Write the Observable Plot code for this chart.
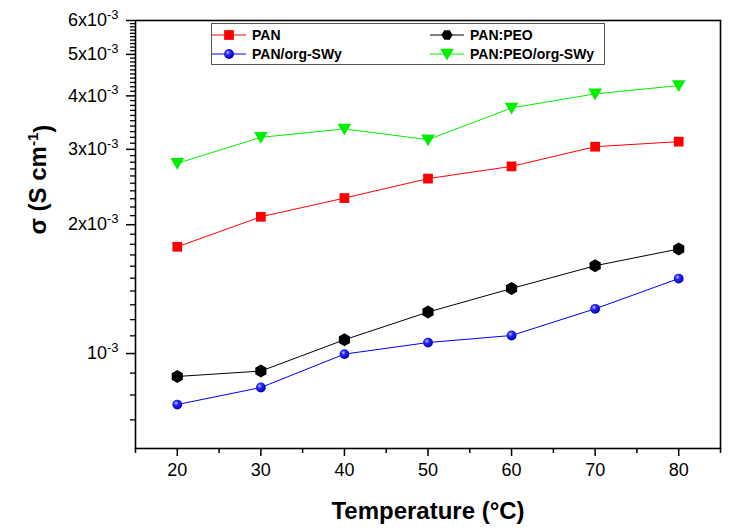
<!DOCTYPE html>
<html><head><meta charset="utf-8">
<script src="https://cdn.jsdelivr.net/npm/d3@7"></script>
<script src="https://cdn.jsdelivr.net/npm/@observablehq/plot@0.6"></script>
<style>
body{margin:0;background:#fff;font-family:"Liberation Sans",Arial,sans-serif;}
#wrap{position:relative;width:729px;height:531px;}
#legend{position:absolute;left:211px;top:23px;width:392px;height:40px;border:1px solid #555;background:#fff;}
.lg{position:absolute;display:flex;align-items:center;height:20px;font-weight:bold;font-size:14px;color:#000;}
.lg svg{display:block;margin-right:6px;}
</style></head><body><div id="wrap"></div>
<script>
// ---- data ----
const temperatures = [20, 30, 40, 50, 60, 70, 80];
const seriesNames = ["PAN", "PAN:PEO", "PAN/org-SWy", "PAN:PEO/org-SWy"];
const panValues = [1.776e-3, 2.087e-3, 2.308e-3, 2.563e-3, 2.737e-3, 3.043e-3, 3.127e-3];
const panPeoValues = [0.884e-3, 0.910e-3, 1.077e-3, 1.250e-3, 1.419e-3, 1.604e-3, 1.755e-3];
const panOrgValues = [0.760e-3, 0.833e-3, 0.997e-3, 1.061e-3, 1.102e-3, 1.272e-3, 1.497e-3];
const panPeoOrgValues = [2.782e-3, 3.200e-3, 3.348e-3, 3.160e-3, 3.749e-3, 4.043e-3, 4.227e-3];
const seriesColors = ["#ff0000", "#000000", "#0000ff", "#00ee00"];
const xTicks = [20, 30, 40, 50, 60, 70, 80];
const xMinorTicks = [15, 25, 35, 45, 55, 65, 75, 85];
const yTicks = [1e-3, 2e-3, 3e-3, 4e-3, 5e-3, 6e-3];
const yTickLabels = ["10", "2x10", "3x10", "4x10", "5x10", "6x10"];
const yTickExponent = "-3";
const xTitle = "Temperature (°C)";
const yTitleBase = "σ (S cm";
const yTitleExp = "-1";

// ---- build ----
const valueArrays = [panValues, panPeoValues, panOrgValues, panPeoOrgValues];
const rows = [];
seriesNames.forEach((s, k) => temperatures.forEach((t, i) => rows.push({series: s, t, v: valueArrays[k][i]})));
const yMinor = [];
for (let m = 7; m < 60; m++) { if (m % 10 !== 0) yMinor.push(m * 1e-4); }

const triangleDown = {
  draw(ctx, size) {
    const r = Math.sqrt(size / Math.PI);
    ctx.moveTo(-1.1 * r, -0.85 * r);
    ctx.lineTo(1.1 * r, -0.85 * r);
    ctx.lineTo(0, 1.05 * r);
    ctx.closePath();
  }
};
const symbols = ["square", "hexagon", "circle", triangleDown];
const radii = [5.5, 5.6, 4.9, 6.2];
const fills = ["#ff0000", "#000000", "url(#sphere)", "#00ee00"];

const of = s => rows.filter(d => d.series === s);

const marks = [
  Plot.frame({stroke: "#000", strokeWidth: 1.6}),
  Plot.axisX({ticks: xMinorTicks, tickSize: 5, tickFormat: () => "", strokeWidth: 1.5, label: null}),
  Plot.axisX({ticks: xTicks, tickSize: 8, tickPadding: 7, tickFormat: d => String(d), strokeWidth: 1.5, fontSize: 18, label: null}),
  Plot.axisY({ticks: yMinor, tickSize: 5, tickFormat: () => "", strokeWidth: 1.3, label: null}),
  Plot.axisY({ticks: yTicks, tickSize: 9, tickPadding: 8, tickFormat: d => yTickLabels[yTicks.indexOf(d)], strokeWidth: 1.5, fontSize: 18, label: null}),
];
seriesNames.forEach((s, k) => {
  marks.push(Plot.line(of(s), {x: "t", y: "v", stroke: seriesColors[k], strokeWidth: 1}));
});
seriesNames.forEach((s, k) => {
  marks.push(Plot.dot(of(s), {x: "t", y: "v", symbol: () => symbols[k], r: radii[k], fill: fills[k], stroke: "none"}));
});
marks.push(Plot.text([xTitle], {frameAnchor: "bottom", dy: 63, lineAnchor: "middle", fontSize: 24, fontWeight: "bold", text: d => d}));
marks.push(Plot.text([yTitleBase], {frameAnchor: "left", dx: -97, rotate: -90, lineAnchor: "middle", fontSize: 24, fontWeight: "bold", text: d => d}));

const svg = Plot.plot({
  width: 729, height: 531,
  marginLeft: 135, marginRight: 9, marginTop: 20, marginBottom: 83,
  x: {domain: [15, 85]},
  y: {type: "log", domain: [6e-4, 6e-3]},
  symbol: {type: "identity"},
  style: {fontFamily: "'Liberation Sans', Arial, sans-serif", color: "#000", background: "#fff", overflow: "visible"},
  marks
});

const s = d3.select(svg);
const defs = s.insert("defs", ":first-child");
const g = defs.append("radialGradient").attr("id", "sphere").attr("cx", "38%").attr("cy", "35%").attr("r", "65%");
g.append("stop").attr("offset", "0%").attr("stop-color", "#c8c8ff");
g.append("stop").attr("offset", "35%").attr("stop-color", "#2a2aff");
g.append("stop").attr("offset", "100%").attr("stop-color", "#0000b0");

s.selectAll("text").each(function() {
  const txt = this.textContent;
  const t = d3.select(this);
  if (yTickLabels.includes(txt) && this.childElementCount === 0) {
    t.append("tspan").attr("dy", "-0.55em").attr("font-size", "13px").text(yTickExponent);
  } else if (txt === yTitleBase) {
    t.append("tspan").attr("dy", "-0.55em").attr("font-size", "15px").text(yTitleExp);
    t.append("tspan").attr("dy", "0.55em").text(")");
  }
});

const wrap = document.getElementById("wrap");
wrap.appendChild(svg);

// legend
const legend = document.createElement("div");
legend.id = "legend";
const legPos = [[0, 1], [218, 1], [0, 20], [218, 20]];
[0, 1, 2, 3].forEach(k => {
  const item = document.createElement("div");
  item.className = "lg";
  item.style.left = legPos[k][0] + "px";
  item.style.top = legPos[k][1] + "px";
  const sw = d3.create("svg").attr("width", 34).attr("height", 20);
  sw.append("line").attr("x1", 0).attr("x2", 34).attr("y1", 10).attr("y2", 10).attr("stroke", seriesColors[k]).attr("stroke-width", 1);
  if (k === 1) {
    const r = 5.6;
    const p = d3.range(6).map(i => [r * Math.cos(Math.PI / 6 + i * Math.PI / 3), r * Math.sin(Math.PI / 6 + i * Math.PI / 3)]);
    sw.append("path").attr("d", "M" + p.join("L") + "Z").attr("transform", "translate(17,10) rotate(30)").attr("fill", "#000");
  } else if (k === 3) {
    const path = d3.path();
    triangleDown.draw(path, Math.PI * 6.2 * 6.2);
    sw.append("path").attr("d", path.toString()).attr("transform", "translate(17,10)").attr("fill", fills[k]);
  } else {
    const st = k === 0 ? d3.symbolSquare : d3.symbolCircle;
    const sym2 = d3.symbol(st, Math.PI * radii[k] * radii[k]);
    sw.append("path").attr("d", sym2()).attr("transform", "translate(17,10)").attr("fill", k === 2 ? "url(#sphere)" : fills[k]);
  }
  item.appendChild(sw.node());
  const label = document.createElement("span");
  label.textContent = seriesNames[k];
  item.appendChild(label);
  legend.appendChild(item);
});
wrap.appendChild(legend);
</script></body></html>
